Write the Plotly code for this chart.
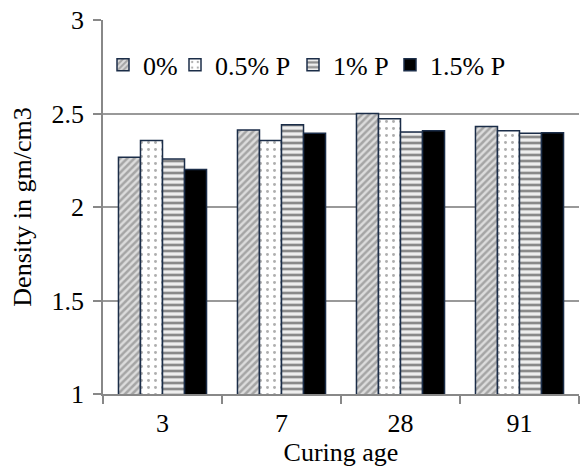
import plotly.graph_objects as go

# Curing ages (days) and bulk density for each admixture dosage
curing_age = ["3", "7", "28", "91"]
series_names = ["0%", "0.5% P", "1% P", "1.5% P"]
density_0 = [2.266, 2.412, 2.500, 2.430]
density_05 = [2.355, 2.355, 2.472, 2.408]
density_1 = [2.257, 2.440, 2.401, 2.394]
density_15 = [2.200, 2.394, 2.408, 2.397]

y_ticks = [1, 1.5, 2, 2.5, 3]
y_ticklabels = ["1", "1.5", "2", "2.5", "3"]

FONT = "'Liberation Serif', 'Times New Roman', serif"
EDGE = "#1b2d48"

styles = [
    dict(color="#dcdcdc", pattern=dict(shape="/", fgcolor="#6e6e6e", bgcolor="#dcdcdc", size=5, solidity=0.5)),
    dict(color="white", pattern=dict(shape=".", fgcolor="#5e5e5e", bgcolor="white", size=7, solidity=0.14)),
    dict(color="white", pattern=dict(shape="-", fgcolor="#262626", bgcolor="#eeeeee", size=6, solidity=0.45)),
    dict(color="black"),
]
legend_widths = [27, 73, 52, 76]

fig = go.Figure()
for name, vals, st, lw in zip(series_names, [density_0, density_05, density_1, density_15], styles, legend_widths):
    marker = dict(line=dict(color=EDGE, width=1.5), **st)
    fig.add_trace(go.Bar(x=curing_age, y=vals, name=name, marker=marker, legendwidth=lw))

fig.update_layout(
    width=581, height=473,
    margin=dict(l=103, r=2, t=20, b=79),
    paper_bgcolor="white", plot_bgcolor="white",
    font=dict(family=FONT, size=26, color="black"),
    barmode="group", bargap=0.26, bargroupgap=0,
    showlegend=True,
    legend=dict(orientation="h", x=0.0, y=0.88, xanchor="left", yanchor="middle",
                bgcolor="rgba(0,0,0,0)", font=dict(family=FONT, size=26),
                itemclick=False),
    xaxis=dict(
        title=dict(text="Curing age", font=dict(family=FONT, size=26), standoff=6),
        showline=True, linecolor="#888888", linewidth=1.5,
        ticks="outside", tickson="boundaries", ticklen=8, tickcolor="#888888", tickwidth=1.5,
        ticklabelstandoff=5,
        showgrid=False, tickfont=dict(family=FONT, size=26),
    ),
    yaxis=dict(
        title=dict(text="Density in gm/cm3", font=dict(family=FONT, size=26), standoff=12),
        range=[1, 3], tickvals=y_ticks, ticktext=y_ticklabels,
        showline=True, linecolor="#888888", linewidth=1.5,
        ticks="outside", ticklen=8, tickcolor="#888888", tickwidth=1.5,
        ticklabelstandoff=4,
        showgrid=True, gridcolor="#999999", gridwidth=1.5,
        zeroline=False, tickfont=dict(family=FONT, size=26),
    ),
)

fig.write_html("out.html")
